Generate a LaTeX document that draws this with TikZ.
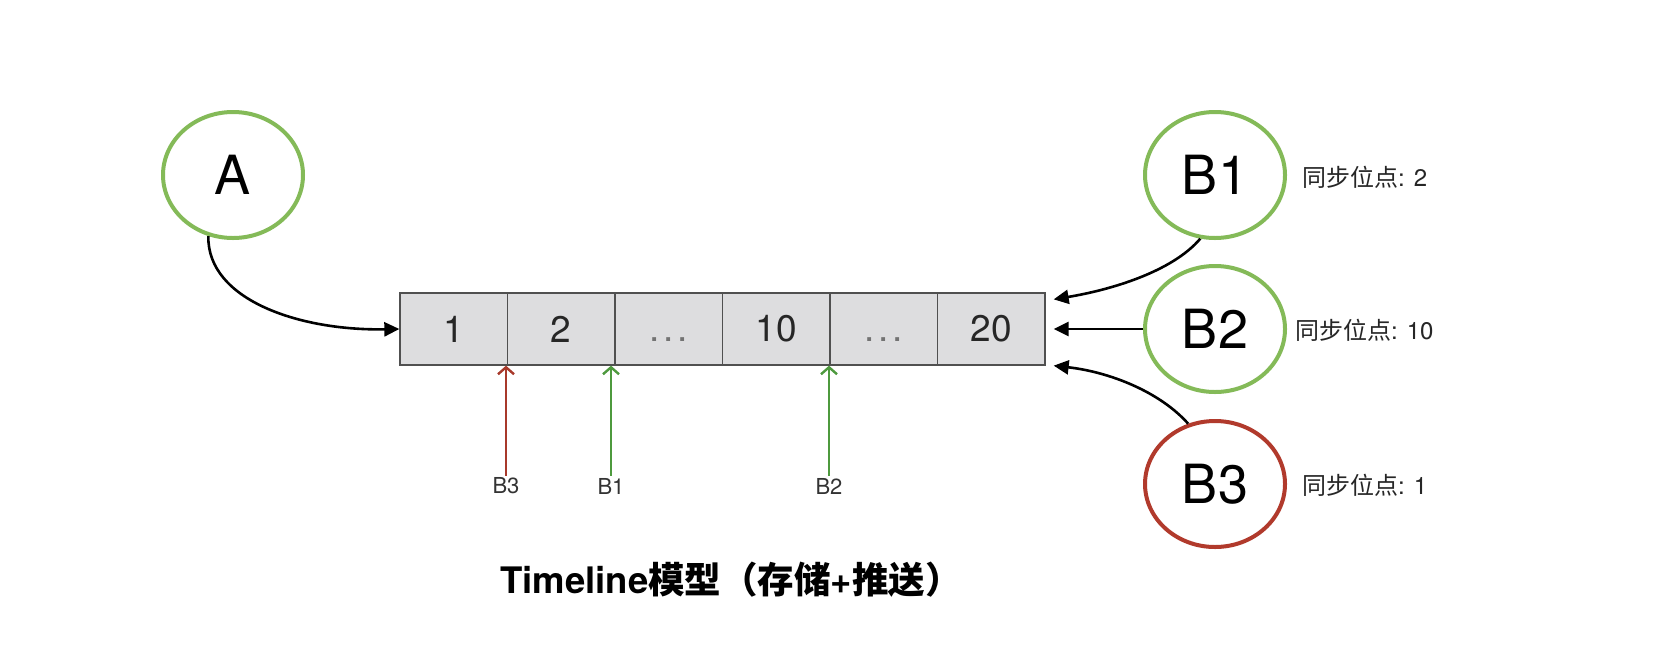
\documentclass[tikz,border=0pt]{standalone}
\usepackage{fontspec}
\setmainfont{TeX Gyre Heros}
\newfontfamily\cjk{Noto Sans CJK SC}
\usetikzlibrary{arrows.meta,shapes.geometric}
\definecolor{cgreen}{HTML}{84BA58}
\definecolor{cred}{HTML}{B13A2C}
\definecolor{ugreen}{HTML}{4E9A3E}
\definecolor{ured}{HTML}{A8392B}
\definecolor{cellfill}{HTML}{DDDDDF}
\definecolor{cellline}{HTML}{505050}
\newcommand{\mydots}{\vphantom{10}\textcolor{black!55}{.\kern3.5pt.\kern3.5pt.}}
\tikzset{
  circ/.style={ellipse, line width=4pt, minimum width=140pt, minimum height=126pt, inner sep=0pt, font=\fontsize{54}{60}\selectfont},
  cell/.style={rectangle, draw=cellline, fill=cellfill, line width=1.3pt, minimum width=107.5pt, minimum height=72pt, inner sep=0pt, font=\fontsize{37}{40}\selectfont, text=black!85},
  sync/.style={anchor=west, inner sep=0pt, font=\fontsize{24}{28}\selectfont, text=black!85},
  lab/.style={inner sep=2pt, font=\fontsize{22}{26}\selectfont, text=black!80},
  blk/.style={line width=2.6pt, -{Triangle[length=15pt,width=14pt]}},
  uparrow/.style={line width=2.4pt, -{Straight Barb[length=7pt,width=16pt]}},
}
\begin{document}
\begin{tikzpicture}[x=1pt,y=-1pt]
\useasboundingbox[fill=white] (0,0) rectangle (1664,646);
% circles
\node[circ, draw=cgreen] (A) at (233,175) {A};
\node[circ, draw=cgreen] (B1) at (1215,175) {B1};
\node[circ, draw=cgreen] (B2) at (1215,329) {B2};
\node[circ, draw=cred] (B3) at (1215,484) {B3};
% cells
\foreach \i/\t in {1/1,2/2,3/\mydots,4/10,5/\mydots,6/20}
  \node[cell] (c\i) at ({453.75+107.5*(\i-1)},329) {\t};
% sync labels
\node[sync] (s1) at (1302,177) {{\cjk 同步位点}: 2};
\node[sync] (s2) at (1295,330) {{\cjk 同步位点}: 10};
\node[sync] (s3) at (1302,485) {{\cjk 同步位点}: 1};
% labels under
\node[lab] (l3) at (506,486) {B3};
\node[lab] (l1) at (611,486) {B1};
\node[lab] (l2) at (829,486) {B2};
\draw[uparrow, draw=ured] (l3.north) -- (l3 |- c1.south);
\draw[uparrow, draw=ugreen] (l1.north) -- (l1 |- c2.south);
\draw[uparrow, draw=ugreen] (l2.north) -- (l2 |- c4.south);
% black arrows
\draw[blk] (A.248) .. controls (207,300) and (300,331) .. (c1.west);
\draw[blk] (B1.257) .. controls (1172,272) and (1110,290) .. ([xshift=8pt,yshift=-7pt]c6.north east);
\draw[blk] (B2.west) -- ([xshift=8pt]c6.east);
\draw[blk] (B3.114) .. controls (1160,392) and (1110,372) .. ([xshift=8pt]c6.south east);
% title
\node (title) at (731,580) {\fontsize{36.5}{42}\selectfont\bfseries Timeline{\cjk 模型（存储}+{\cjk 推送）}};
\end{tikzpicture}
\end{document}
